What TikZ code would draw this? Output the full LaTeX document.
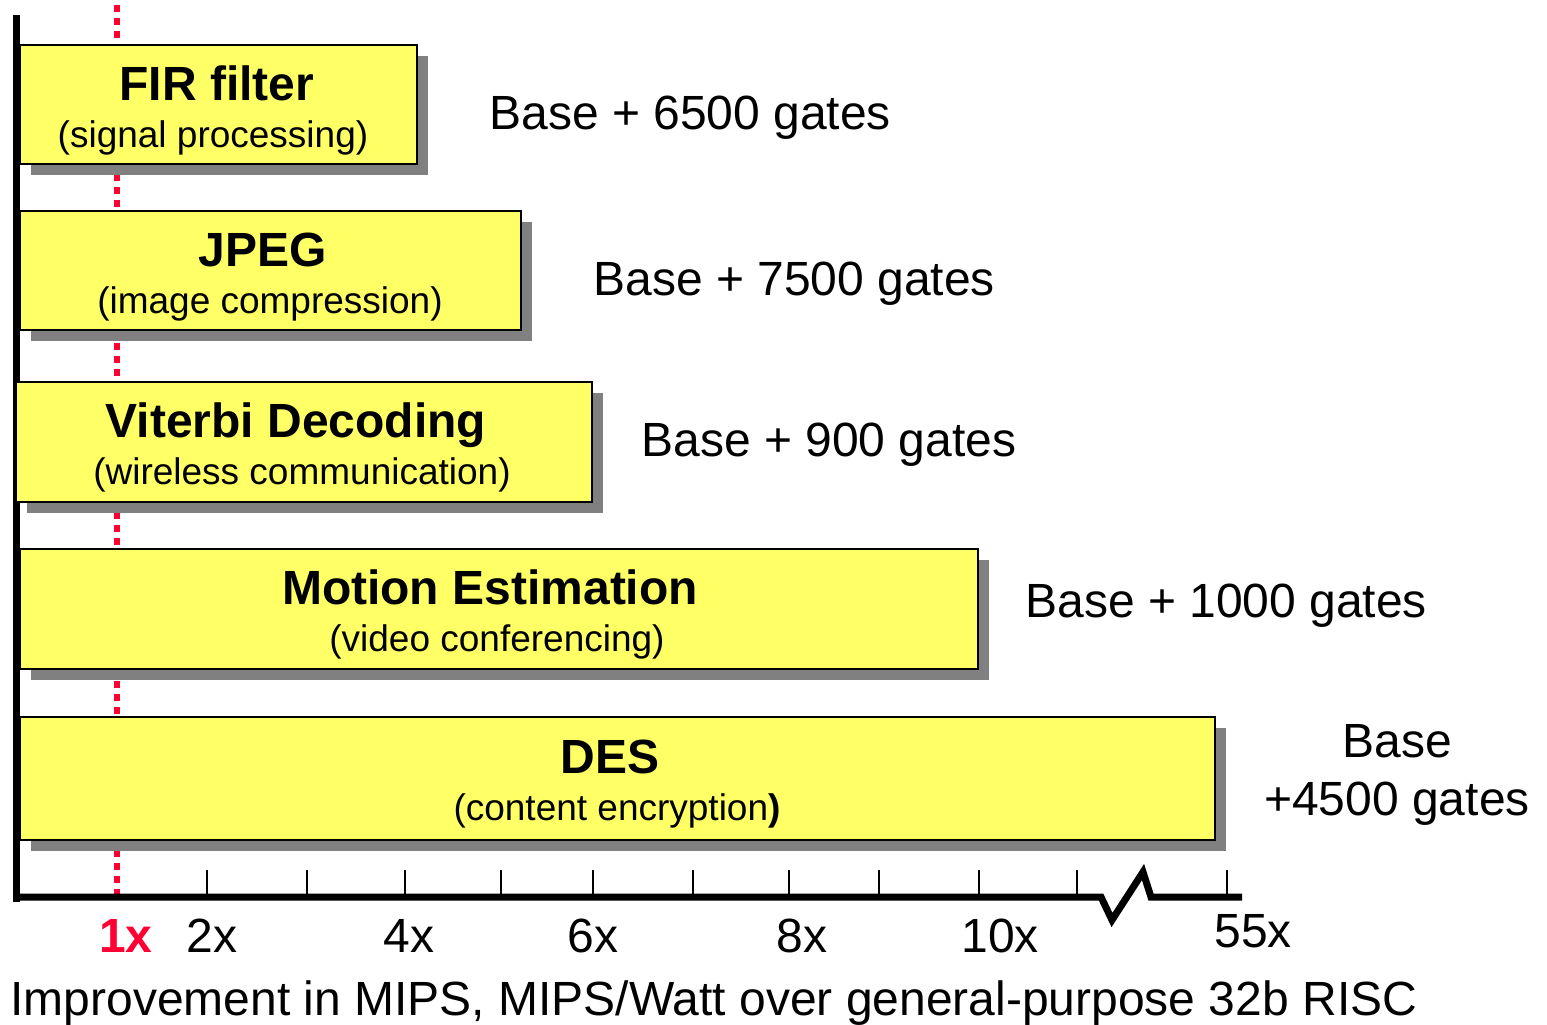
\documentclass[tikz,border=0pt]{standalone}
\usepackage{fontspec}
\setmainfont{Liberation Sans}
\usepackage{tikz}
\usetikzlibrary{shadows}
\definecolor{boxyellow}{HTML}{FFFF66}
\definecolor{shadowgray}{HTML}{808080}
\definecolor{markred}{HTML}{FF0033}

\begin{document}
\begin{tikzpicture}[x=0.5pt,y=-0.5pt,
  appbox/.style={draw=black,line width=1pt,fill=boxyellow,anchor=north west,inner sep=0pt,
    drop shadow={shadow xshift=5.5pt,shadow yshift=-5.5pt,fill=shadowgray,opacity=1}},
  apptitle/.style={anchor=base,inner sep=0pt,font=\fontsize{24pt}{28pt}\selectfont\bfseries},
  appsub/.style={anchor=base,inner sep=0pt,font=\fontsize{18.5pt}{22pt}\selectfont},
  gates/.style={anchor=base west,inner sep=0pt,font=\fontsize{24pt}{28pt}\selectfont},
  ticklab/.style={anchor=base,inner sep=0pt,font=\fontsize{24pt}{28pt}\selectfont}]
  \useasboundingbox (0,0) rectangle (1547,1024);
  \draw[markred,line width=3pt,dash pattern=on 3.5pt off 3pt] (117,5) -- (117,895);
  \draw[line width=3.5pt] (16,15) -- (16,902);
  \node[appbox,minimum width=198.5pt,minimum height=59.5pt] (fir) at (19,44) {};
  \node[appbox,minimum width=250.5pt,minimum height=59.5pt] (jpeg) at (19,210) {};
  \node[appbox,minimum width=288pt,minimum height=60pt] (viterbi) at (15,381) {};
  \node[appbox,minimum width=479pt,minimum height=60pt] (motion) at (19,548) {};
  \node[appbox,minimum width=597.5pt,minimum height=61.5pt] (des) at (19,716) {};
  \node[apptitle] (firtitle) at (217,100) {FIR filter};
  \node[appsub] (firsub) at (213,147) {(signal processing)};
  \node[apptitle] (jpegtitle) at (263,266) {JPEG};
  \node[appsub] (jpegsub) at (270,313) {(image compression)};
  \node[apptitle] (vittitle) at (296,437) {Viterbi Decoding};
  \node[appsub] (vitsub) at (302,484) {(wireless communication)};
  \node[apptitle] (mottitle) at (490,604) {Motion Estimation};
  \node[appsub] (motsub) at (497,651) {(video conferencing)};
  \node[apptitle] (destitle) at (610,773) {DES};
  \node[appsub] (dessub) at (617,820) {(content encryption\textbf{)}};
  \node[gates] (firgates) at (489,129) {Base + 6500 gates};
  \node[gates] (jpeggates) at (593,295) {Base + 7500 gates};
  \node[gates] (vitgates) at (641,456) {Base + 900 gates};
  \node[gates] (motgates) at (1025,617) {Base + 1000 gates};
  \node[ticklab] (desbase) at (1397,757) {Base};
  \node[ticklab] (desgates) at (1397,815) {+4500 gates};
  \draw[line width=3.5pt,miter limit=4] (16,897) -- (1101,897) -- (1112,920) -- (1143,872) -- (1151,897) -- (1242,897);
  \draw[line width=1pt] (207,870) -- (207,897);
  \draw[line width=1pt] (307,870) -- (307,897);
  \draw[line width=1pt] (405,870) -- (405,897);
  \draw[line width=1pt] (501,870) -- (501,897);
  \draw[line width=1pt] (593,870) -- (593,897);
  \draw[line width=1pt] (693,870) -- (693,897);
  \draw[line width=1pt] (789,870) -- (789,897);
  \draw[line width=1pt] (879,870) -- (879,897);
  \draw[line width=1pt] (979,870) -- (979,897);
  \draw[line width=1pt] (1077,870) -- (1077,897);
  \draw[line width=1pt] (1227,870) -- (1227,897);
  \node[ticklab,text=markred,font=\fontsize{24pt}{28pt}\selectfont\bfseries] (one) at (126,952) {1x};
  \node[ticklab] (two) at (212,952) {2x};
  \node[ticklab] (four) at (409,952) {4x};
  \node[ticklab] (six) at (593,952) {6x};
  \node[ticklab] (eight) at (802,952) {8x};
  \node[ticklab] (ten) at (1000,952) {10x};
  \node[ticklab] (fiftyfive) at (1253,947) {55x};
  \node[gates] (caption) at (10,1015) {Improvement in MIPS, MIPS/Watt over general-purpose 32b RISC};
\end{tikzpicture}
\end{document}
